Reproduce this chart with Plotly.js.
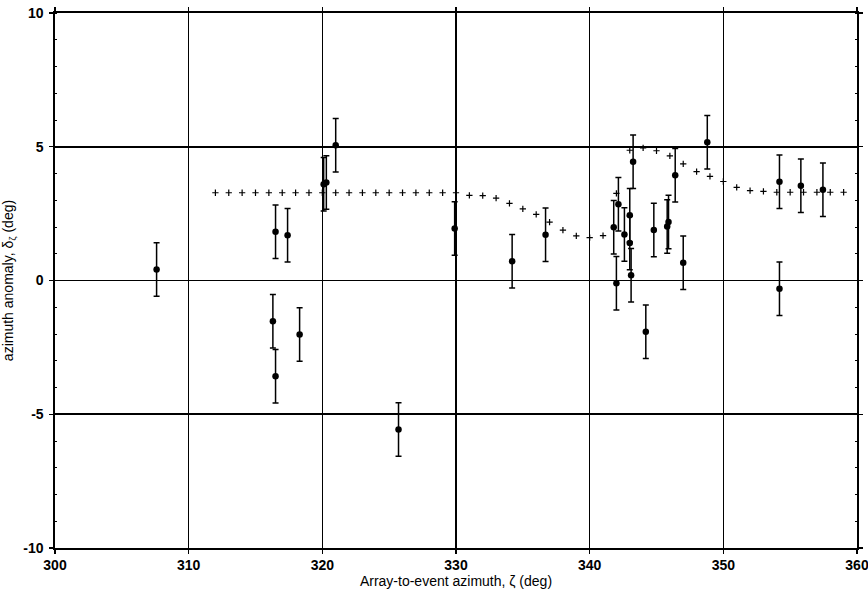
<!DOCTYPE html>
<html>
<head>
<meta charset="utf-8">
<script src="https://cdn.plot.ly/plotly-3.0.1.min.js"></script>
<style>html,body{margin:0;padding:0;background:#fff;}#chart{width:868px;height:593px;}</style>
</head>
<body>
<div id="chart"></div>
<script>
// Observed azimuth anomalies (deg) vs array-to-event azimuth (deg)
const obsAzimuth = [307.6, 316.3, 316.5, 316.5, 317.4, 318.3, 320.1, 320.3, 321.0, 325.7,
  329.9, 334.2, 336.7, 341.8, 342.0, 342.15, 342.6, 343.0, 343.0, 343.1, 343.25,
  344.2, 344.8, 345.8, 345.9, 346.4, 347.0, 348.8, 354.2, 354.2, 355.8, 357.45];
const obsAnomaly = [0.41, -1.52, -3.58, 1.82, 1.69, -2.02, 3.6, 3.66, 5.06, -5.57,
  1.94, 0.72, 1.71, 1.99, -0.10, 2.85, 1.72, 2.44, 1.40, 0.20, 4.44,
  -1.92, 1.89, 2.02, 2.19, 3.93, 0.66, 5.17, 3.69, -0.31, 3.54, 3.39];
const obsError = [1, 1, 1, 1, 1, 1, 1, 1, 1, 1,
  1, 1, 1, 1, 1, 1, 1, 1, 1, 1, 1,
  1, 1, 1, 1, 1, 1, 1, 1, 1, 1, 1];

// Model prediction (+ symbols)
const modelAzimuth = [312, 313, 314, 315, 316, 317, 318, 319, 320, 321, 322, 323, 324, 325,
  326, 327, 328, 329, 330, 331, 332, 333, 334, 335, 336, 337, 338, 339, 340, 341,
  342, 343, 344, 345, 346, 347, 348, 349, 350, 351, 352, 353, 354, 355, 356, 357,
  358, 359];
const modelAnomaly = [3.28, 3.28, 3.28, 3.28, 3.28, 3.28, 3.28, 3.28, 3.28, 3.28, 3.28, 3.28, 3.28, 3.28,
  3.28, 3.28, 3.28, 3.28, 3.28, 3.18, 3.17, 3.08, 2.88, 2.68, 2.47, 2.18, 1.88, 1.67, 1.60, 1.68,
  3.26, 4.87, 4.96, 4.85, 4.66, 4.36, 4.07, 3.89, 3.70, 3.48, 3.36, 3.33, 3.30, 3.30, 3.30, 3.30,
  3.30, 3.30];

const xTicks = [300, 310, 320, 330, 340, 350, 360];
const yTicks = [-10, -5, 0, 5, 10];

const traces = [
  {
    x: modelAzimuth, y: modelAnomaly, type: 'scatter', mode: 'markers',
    marker: {symbol: 'cross-thin', size: 4.5, color: '#000', line: {color: '#000', width: 1.2}},
    hoverinfo: 'skip', showlegend: false
  },
  {
    x: obsAzimuth, y: obsAnomaly, type: 'scatter', mode: 'markers',
    marker: {symbol: 'circle', size: 6.5, color: '#000'},
    error_y: {type: 'data', array: obsError, visible: true, color: '#000', thickness: 1.5, width: 3},
    showlegend: false
  }
];

const tickFont = {family: 'Liberation Sans, Arial, sans-serif', size: 14, color: '#000', weight: 'bold'};
const titleFont = {family: 'Liberation Sans, Arial, sans-serif', size: 14, color: '#000'};
const layout = {
  width: 868, height: 593,
  margin: {l: 55, r: 11, t: 13, b: 45},
  paper_bgcolor: '#fff', plot_bgcolor: '#fff',
  showlegend: false,
  xaxis: {
    range: [300, 360], tickvals: xTicks, ticktext: xTicks.map(String),
    showgrid: true, gridcolor: '#000', gridwidth: 1.6,
    zeroline: false, showline: true, linecolor: '#000', linewidth: 1.6, mirror: 'allticks',
    ticks: 'outside', ticklen: 4, tickcolor: '#000', tickwidth: 1.2,
    ticklabeloverflow: 'allow',
    tickfont: tickFont,
    title: {text: 'Array-to-event azimuth, ζ (deg)', standoff: 4, font: titleFont}
  },
  yaxis: {
    range: [-10, 10], tickvals: yTicks, ticktext: yTicks.map(String),
    showgrid: true, gridcolor: '#000', gridwidth: 1.6,
    zeroline: false, showline: true, linecolor: '#000', linewidth: 1.6, mirror: 'allticks',
    ticks: 'outside', ticklen: 4, tickcolor: '#000', tickwidth: 1.2, ticklabelstandoff: 3,
    ticklabeloverflow: 'allow',
    minor: {dtick: 1, ticks: 'inside', ticklen: 2, tickcolor: '#000', tickwidth: 1, showgrid: false},
    tickfont: tickFont,
    title: {text: 'azimuth anomaly, δ<sub>ζ</sub> (deg)', standoff: 6, font: titleFont}
  }
};

Plotly.newPlot('chart', traces, layout, {displayModeBar: false, staticPlot: true});
</script>
</body>
</html>
